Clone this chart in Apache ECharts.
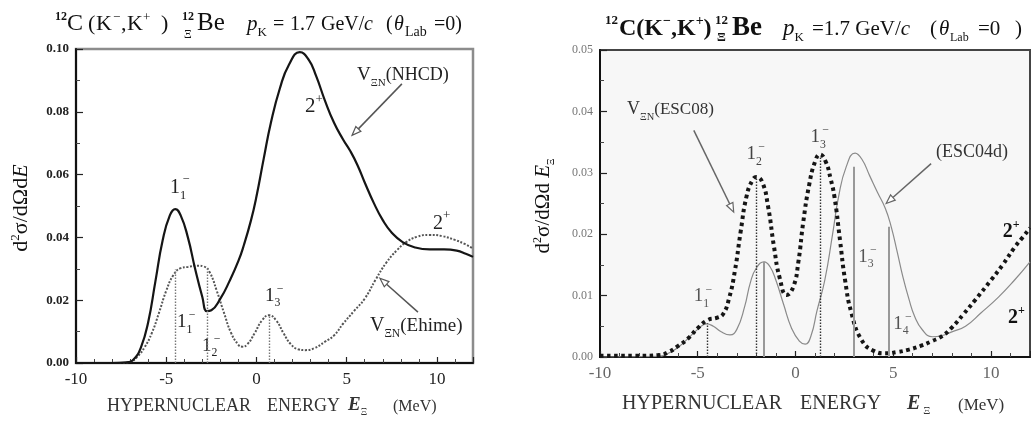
<!DOCTYPE html>
<html lang="en">
<head>
<meta charset="UTF-8">
<title>12C(K-,K+) Xi-hypernuclear spectra</title>
<script src="https://cdn.jsdelivr.net/npm/echarts@6/dist/echarts.min.js"></script>
<style>
html,body{margin:0;padding:0;background:#fff;}
#chart{width:1031px;height:424px;}
</style>
</head>
<body>
<div id="chart"></div>
<script>
// ---- left panel: V_XiN(NHCD) solid, V_XiN(Ehime) dotted ----
var nhcdX = [-10,-8,-7.2,-6.8,-6.4,-6.0,-5.6,-5.2,-4.8,-4.5,-4.2,-3.8,-3.4,-3.0,-2.75,-2.5,-2.0,-1.5,-1.0,-0.7,-0.3,0,0.4,0.8,1.3,1.8,2.4,2.9,3.3,3.8,4.3,4.8,5.2,5.6,6.0,6.5,7.0,7.5,8.1,8.8,9.6,10.4,11.1,11.6,12];
var nhcdY = [0,0,0.0002,0.0012,0.005,0.013,0.026,0.039,0.047,0.049,0.047,0.040,0.030,0.021,0.0165,0.0168,0.0205,0.026,0.0325,0.0375,0.0455,0.053,0.065,0.0765,0.0875,0.095,0.099,0.0965,0.0915,0.0835,0.0765,0.0712,0.0675,0.063,0.0575,0.051,0.0455,0.0415,0.0385,0.0368,0.0362,0.0362,0.0358,0.0348,0.0338];
var ehimeX = [-10,-7.5,-7.0,-6.6,-6.2,-5.8,-5.4,-5.0,-4.6,-4.2,-3.8,-3.3,-2.9,-2.6,-2.2,-1.8,-1.4,-1.0,-0.8,-0.5,-0.1,0.3,0.7,1.1,1.5,1.9,2.3,2.7,3.2,3.8,4.3,4.8,5.4,6.0,6.6,7.2,7.8,8.3,8.9,9.6,10.3,11.0,11.5,12];
var ehimeY = [0,0,0.0004,0.002,0.005,0.0095,0.016,0.023,0.028,0.0302,0.0306,0.031,0.0307,0.029,0.023,0.016,0.0095,0.0058,0.0052,0.006,0.0095,0.0135,0.0152,0.0135,0.0095,0.006,0.0044,0.0041,0.0047,0.0068,0.0088,0.0125,0.0165,0.0205,0.0265,0.032,0.036,0.0385,0.0402,0.0408,0.0404,0.0392,0.038,0.0365];
// state positions (dotted drop lines) in the left panel
var leftLineX = [-4.5,-2.72,0.69];
var leftLineY = [0.0298,0.0302,0.0152];

// ---- right panel: V_XiN(ESC08) thick dots, (ESC04d) thin grey ----
var esc08X = [-10,-8,-7,-6.5,-6.0,-5.5,-5.0,-4.5,-4.0,-3.7,-3.4,-3.1,-2.8,-2.5,-2.2,-2.0,-1.7,-1.4,-1.1,-0.8,-0.45,-0.1,0.15,0.4,0.7,1.0,1.25,1.55,1.8,2.0,2.28,2.54,2.87,3.38,4.0,4.6,5.2,5.8,6.4,7.0,7.5,8.0,8.6,9.2,10.0,10.6,11.2,11.6,12];
var esc08Y = [0.0002,0.0002,0.0003,0.0008,0.0018,0.003,0.0047,0.006,0.0064,0.007,0.0095,0.014,0.0205,0.0262,0.0288,0.0293,0.0285,0.0245,0.018,0.0128,0.0101,0.0115,0.0155,0.022,0.028,0.0318,0.033,0.0318,0.029,0.026,0.019,0.0125,0.0071,0.0028,0.001,0.0006,0.0008,0.0012,0.0018,0.0026,0.0034,0.0048,0.007,0.0093,0.0125,0.015,0.0178,0.0194,0.021];
var esc04X = [-10,-7,-6.5,-6.0,-5.5,-5.0,-4.55,-4.2,-3.8,-3.35,-3.0,-2.6,-2.3,-2.0,-1.6,-1.3,-1.0,-0.6,-0.2,0.2,0.5,0.8,1.1,1.5,1.9,2.2,2.6,3.05,3.4,3.8,4.2,4.6,4.9,5.2,5.5,5.8,6.1,6.5,7.0,7.5,8.0,8.7,9.5,10.4,11.2,12];
var esc04Y = [0,0.0001,0.0006,0.0016,0.003,0.0045,0.0054,0.005,0.0041,0.0036,0.0045,0.0082,0.0122,0.0145,0.0155,0.0147,0.0125,0.0085,0.0047,0.0026,0.0021,0.0035,0.0075,0.0125,0.02,0.026,0.031,0.0332,0.0322,0.0295,0.0268,0.0242,0.0212,0.0172,0.013,0.0095,0.0066,0.0044,0.0033,0.0035,0.0041,0.005,0.0072,0.0098,0.0125,0.0155];
var rightDotX = [-4.53,-2.0,1.28];
var rightDotY = [0.0055,0.029,0.0325];
var rightSolidX = [-1.6,2.96,4.78];
var rightSolidY = [0.0155,0.031,0.0212];

var xTicks = [-10,-5,0,5,10];

function zip(xs, ys){
  var out = [];
  for (var i = 0; i < xs.length; i++) out.push([xs[i], ys[i]]);
  return out;
}
function drops(xs, ys, style){
  var out = [];
  for (var i = 0; i < xs.length; i++) {
    out.push([{coord:[xs[i],0], lineStyle:style}, {coord:[xs[i],ys[i]]}]);
  }
  return out;
}

var SERIF = '"Liberation Serif", "DejaVu Serif", serif';
var chart = echarts.init(document.getElementById('chart'));

function xAxisOpt(grid, labelColor){
  return {
    gridIndex: grid, type:'value', min:-10, max:12, interval:5,
    axisLine:{onZero:false, lineStyle:{color:'#111', width:2}},
    axisTick:{inside:true, length:6, lineStyle:{color:'#222', width:1.2}},
    minorTick:{show:true, splitNumber:5, length:4, lineStyle:{color:'#444', width:1}},
    splitLine:{show:false},
    axisLabel:{fontFamily:SERIF, fontSize:17, color:labelColor, margin:8, showMaxLabel:false,
      formatter:function(v){ return xTicks.indexOf(v) >= 0 ? String(v) : ''; }}
  };
}
function yAxisOpt(grid, max, step, labelColor, size, bold){
  return {
    gridIndex: grid, type:'value', min:0, max:max, interval:step,
    axisLine:{onZero:false, lineStyle:{color:'#111', width:2}},
    axisTick:{inside:true, length:7, lineStyle:{color:'#222', width:1.2}},
    minorTick:{show:true, splitNumber:2, length:4, lineStyle:{color:'#444', width:1}},
    splitLine:{show:false},
    axisLabel:{fontFamily:SERIF, fontSize:size, fontWeight:bold ? 'bold' : 'normal', color:labelColor, margin:7,
      formatter:function(v){ return v.toFixed(2); }}
  };
}

chart.setOption({
  animation:false,
  backgroundColor:'#fff',
  grid:[
    {left:76, top:49, width:397, height:314, show:true, borderColor:'#8c8c8c', borderWidth:2.5, backgroundColor:'#fff'},
    {left:600, top:50, width:430, height:307, show:true, borderColor:'#444', borderWidth:2, backgroundColor:'#f7f7f7'}
  ],
  xAxis:[xAxisOpt(0,'#222'), xAxisOpt(1,'#666')],
  yAxis:[yAxisOpt(0,0.1,0.02,'#222',13,true), yAxisOpt(1,0.05,0.01,'#777',12,false)],
  series:[
    {name:'Ehime', type:'line', xAxisIndex:0, yAxisIndex:0, data:zip(ehimeX,ehimeY),
     smooth:0.5, showSymbol:false, symbol:'none',
     lineStyle:{color:'#555', width:2, type:[2,1.6]},
     markLine:{silent:true, symbol:['none','none'], label:{show:false},
       data:drops(leftLineX,leftLineY,{color:'#777', width:1.4, type:[1.5,1.5]})}},
    {name:'NHCD', type:'line', xAxisIndex:0, yAxisIndex:0, data:zip(nhcdX,nhcdY),
     smooth:0.5, showSymbol:false, symbol:'none',
     lineStyle:{color:'#151515', width:2.2}},
    {name:'ESC04d', type:'line', xAxisIndex:1, yAxisIndex:1, data:zip(esc04X,esc04Y),
     smooth:0.5, showSymbol:false, symbol:'none',
     lineStyle:{color:'#8a8a8a', width:1.2},
     markLine:{silent:true, symbol:['none','none'], label:{show:false},
       data:drops(rightSolidX,rightSolidY,{color:'#999', width:2, type:'solid'})}},
    {name:'ESC08', type:'line', xAxisIndex:1, yAxisIndex:1, data:zip(esc08X,esc08Y),
     smooth:0.5, showSymbol:false, symbol:'none',
     lineStyle:{color:'#151515', width:4, type:[3.5,3.6], cap:'butt'},
     markLine:{silent:true, symbol:['none','none'], label:{show:false},
       data:drops(rightDotX,rightDotY,{color:'#333', width:1.4, type:[1.5,1.5]})}}
  ]
});

// ---- text runs with sub/superscripts, laid out with canvas metrics ----
var ctx = document.createElement('canvas').getContext('2d');
function fnt(p){ return (p.i ? 'italic ' : '') + (p.b ? 'bold ' : '') + p.s + 'px ' + SERIF; }
function measure(parts){
  var x = 0, w = 0;
  parts.forEach(function(p){
    if (p.at != null) x = p.at;
    ctx.font = fnt(p);
    var pw = ctx.measureText(p.t).width;
    w = Math.max(w, x + (p.dx || 0) + pw);
    if (!p.keep) x += pw + (p.gap || 0);
  });
  return w;
}
function run(parts, x0, base, color){
  var out = [], x = x0;
  parts.forEach(function(p){
    if (p.at != null) x = p.at;
    var f = fnt(p);
    ctx.font = f;
    var pw = ctx.measureText(p.t).width;
    out.push({type:'text', silent:true, x:x + (p.dx || 0), y:base + (p.dy || 0) - 0.34 * p.s,
      style:{text:p.t, font:f, fill:p.c || color, textAlign:'left', align:'left',
             textVerticalAlign:'middle', verticalAlign:'middle'}});
    if (!p.keep) x += pw + (p.gap || 0);
  });
  return out;
}
function level(n, sub, sign, s, bold){
  return [{t:n, s:s, b:bold}, {t:sub, s:s*0.62, dy:s*0.28, keep:true, b:bold}, {t:sign, s:s*0.62, dy:-s*0.5, dx:s*0.12, b:bold}];
}
function vxn(name, s){
  return [{t:'V', s:s}, {t:'ΞN', s:s*0.58, dy:s*0.3}, {t:name, s:s*0.95}];
}

var g = [];
function at(grid, x, y){ return chart.convertToPixel({gridIndex:grid}, [x, y]); }
function label(grid, x, y, parts, color){
  var p = at(grid, x, y);
  g = g.concat(run(parts, p[0], p[1], color));
}
function arrow(grid, x1, y1, x2, y2, color){
  var a = at(grid, x1, y1), b = at(grid, x2, y2);
  var dx = b[0]-a[0], dy = b[1]-a[1], L = Math.sqrt(dx*dx+dy*dy), ux = dx/L, uy = dy/L;
  var hl = 9, hw = 3.5;
  var bx = b[0]-ux*hl, by = b[1]-uy*hl;
  g.push({type:'line', silent:true, shape:{x1:a[0], y1:a[1], x2:bx, y2:by}, style:{stroke:color, lineWidth:1.5}});
  g.push({type:'polygon', silent:true, shape:{points:[[b[0],b[1]],[bx-uy*hw,by+ux*hw],[bx+uy*hw,by-ux*hw]]},
    style:{fill:'#fff', stroke:color, lineWidth:1.2}});
}

// titles
g = g.concat(run([
  {t:'12', s:12, b:true, dy:-11, at:55},
  {t:'C', s:24, at:67},
  {t:'(', s:22, at:88},
  {t:'K', s:22, at:96},
  {t:'−', s:13, dy:-10, at:113},
  {t:',', s:22, at:121},
  {t:'K', s:22, at:127},
  {t:'+', s:13, dy:-10, at:143},
  {t:')', s:22, at:161},
  {t:'12', s:12, b:true, dy:-11, at:182, keep:true},
  {t:'Ξ', s:12, dy:7, dx:2},
  {t:'Be', s:25, at:197},
  {t:'p', s:21, i:true, at:247},
  {t:'K', s:13, dy:5},
  {t:'=', s:20, at:273},
  {t:'1.7', s:20, at:290},
  {t:'GeV/', s:20, at:321},
  {t:'c', s:20, i:true, at:364},
  {t:'(', s:20, at:386},
  {t:'θ', s:20, i:true, at:394},
  {t:'Lab', s:14, dy:5, at:405},
  {t:'=0)', s:20, at:434}
], 0, 32, '#111'));
g = g.concat(run([
  {t:'12', s:13, b:true, dy:-12, at:605},
  {t:'C(K', s:24, b:true, at:619},
  {t:'−', s:14, b:true, dy:-11},
  {t:',K', s:24, b:true},
  {t:'+', s:14, b:true, dy:-11},
  {t:')', s:24, b:true},
  {t:'12', s:13, b:true, dy:-12, at:715, keep:true},
  {t:'Ξ', s:13, b:true, dy:5, dx:2},
  {t:'Be', s:27, b:true, at:732},
  {t:'p', s:23, i:true, at:783},
  {t:'K', s:13, dy:5},
  {t:'=1.7 GeV/', s:21, at:812},
  {t:'c', s:21, i:true},
  {t:'(', s:21, at:930},
  {t:'θ', s:21, i:true, at:939},
  {t:'Lab', s:12, dy:5, at:950},
  {t:'=0', s:21, at:978},
  {t:')', s:21, at:1015}
], 0, 37, '#111'));

// axis names
g = g.concat(run([
  {t:'HYPERNUCLEAR', s:18, at:107},
  {t:'ENERGY', s:18, at:267},
  {t:'E', s:19, b:true, i:true, at:348},
  {t:'Ξ', s:10, dy:4},
  {t:'(MeV)', s:16, at:393}
], 0, 412, '#333'));
g = g.concat(run([
  {t:'HYPERNUCLEAR', s:20, at:622},
  {t:'ENERGY', s:20, at:800},
  {t:'E', s:20, b:true, i:true, at:907},
  {t:'Ξ', s:11, dy:4, dx:3},
  {t:'(MeV)', s:17, at:958}
], 0, 411, '#333'));

function vname(parts, cx, cy){
  var w = measure(parts);
  return {type:'group', x:cx, y:cy, rotation:Math.PI/2, children:run(parts, -w/2, 7, '#111')};
}
g.push(vname([{t:'d', s:22}, {t:'2', s:13, dy:-9}, {t:'σ/dΩd', s:22}, {t:'E', s:22, i:true}], 22, 208));
g.push(vname([{t:'d', s:21}, {t:'2', s:12, dy:-9}, {t:'σ/dΩd ', s:21}, {t:'E', s:21, i:true}, {t:'Ξ', s:10, dy:4}], 544, 206));

// left panel annotations
label(0, -4.79, 0.0537, level('1','1','−',20), '#222');
label(0, 2.69, 0.0794, [{t:'2', s:21}, {t:'+', s:13, dy:-10}], '#222');
label(0, 5.57, 0.0898, vxn('(NHCD)', 19), '#222');
label(0, 9.78, 0.0422, [{t:'2', s:20}, {t:'+', s:13, dy:-10}], '#222');
label(0, 6.29, 0.0098, vxn('(Ehime)', 20), '#222');
label(0, 0.47, 0.0194, level('1','3','−',19), '#222');
label(0, -4.4, 0.0111, level('1','1','−',19), '#222');
label(0, -3.02, 0.0035, level('1','2','−',19), '#222');
arrow(0, 8.06, 0.0889, 5.3, 0.0725, '#555');
arrow(0, 8.95, 0.0162, 6.84, 0.027, '#555');

// right panel annotations
label(1, -8.62, 0.0393, vxn('(ESC08)', 18), '#333');
label(1, -2.5, 0.032, level('1','2','−',19), '#444');
label(1, 0.77, 0.0348, level('1','3','−',19), '#444');
label(1, 7.19, 0.0324, [{t:'(ESC04d)', s:18}], '#333');
label(1, 3.21, 0.0153, level('1','3','−',19), '#555');
label(1, 5.0, 0.0044, level('1','4','−',19), '#555');
label(1, 10.61, 0.0193, [{t:'2', s:20, b:true}, {t:'+', s:12, b:true, dy:-10}], '#111');
label(1, 10.87, 0.0052, [{t:'2', s:20, b:true}, {t:'+', s:12, b:true, dy:-10}], '#111');
label(1, -5.2, 0.0088, level('1','1','−',19), '#555');
arrow(1, -5.2, 0.0369, -3.16, 0.0236, '#666');
arrow(1, 6.94, 0.0315, 4.64, 0.025, '#666');

chart.setOption({graphic:{elements:g}});
</script>
</body>
</html>
